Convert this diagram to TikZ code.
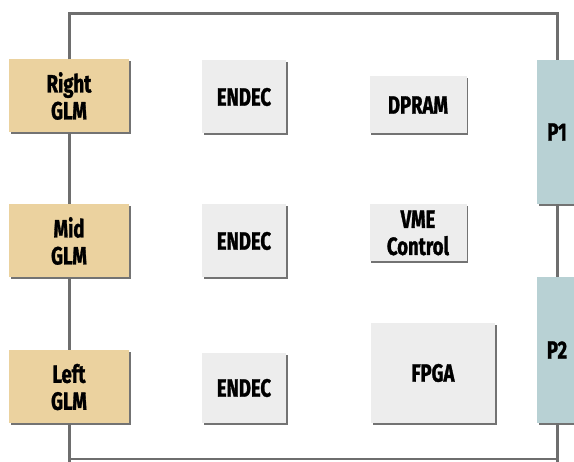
\documentclass[tikz,border=0pt]{standalone}
\usepackage{fontspec}
\setmainfont[FakeStretch=0.74,BoldFeatures={FakeBold=1.2}]{Fira Sans}
\usetikzlibrary{shadows}
\definecolor{glmtan}{HTML}{EBD29F}
\definecolor{chipgray}{HTML}{EDEDED}
\definecolor{conblue}{HTML}{B8D1D4}
\definecolor{wiregray}{HTML}{6E6E6E}
\tikzstyle{box}=[rectangle,inner sep=0pt,align=center,text=black,font=\bfseries\fontsize{25}{27}\selectfont,drop shadow={shadow xshift=1.5pt,shadow yshift=-2pt,opacity=1,fill=black!55}]
\tikzstyle{glm}=[box,fill=glmtan,minimum width=120pt,minimum height=73pt]
\tikzstyle{chip}=[box,fill=chipgray]
\tikzstyle{conn}=[box,fill=conblue,minimum width=40pt]
\tikzstyle{bus}=[draw=wiregray,line width=3pt]

\begin{document}
\begin{tikzpicture}[x=1pt,y=-1pt]
\useasboundingbox[fill=white] (0,0) rectangle (574,462);

\node (rglm) [glm] at (69,96) {Right\\GLM} ;
\node (mglm) [glm] at (69,241) {Mid\\GLM} ;
\node (lglm) [glm] at (69,387) {Left\\GLM} ;

\node (endec1) [chip,minimum width=84pt,minimum height=73pt] at (244,97) {ENDEC} ;
\node (endec2) [chip,minimum width=84pt,minimum height=73pt] at (244,241) {ENDEC} ;
\node (endec3) [chip,minimum width=84pt,minimum height=70pt] at (244,388) {ENDEC} ;

\node (dpram) [chip,minimum width=97pt,minimum height=57pt] at (418,105) {DPRAM} ;
\node (vme) [chip,minimum width=97pt,minimum height=57pt] at (418,233) {VME\\Control} ;
\node (fpga) [chip,minimum width=124pt,minimum height=100pt] at (433,373) {FPGA} ;

\node (p1) [conn,minimum height=144pt] at (557,132) {P1} ;
\node (p2) [conn,minimum height=146pt] at (557,350) {P2} ;

\coordinate (tl) at (69,14) ;
\coordinate (tr) at (557,14) ;
\coordinate (bl) at (69,462) ;
\coordinate (br) at (557,462) ;
\coordinate (bls) at (69,459) ;
\coordinate (brs) at (557,459) ;

\draw [bus] (rglm) -- (tl) -- (tr) -- (p1) ;
\draw [bus] (rglm) -- (mglm) ;
\draw [bus] (mglm) -- (lglm) ;
\draw [bus] (lglm) -- (bl) ;
\draw [bus] (p1) -- (p2) ;
\draw [bus] (p2) -- (br) ;
\draw [bus,line width=2pt] (bls) -- (brs) ;

\end{tikzpicture}
\end{document}
